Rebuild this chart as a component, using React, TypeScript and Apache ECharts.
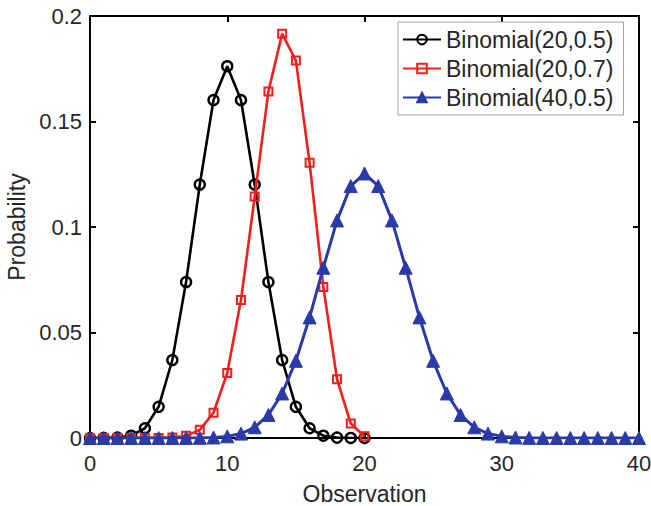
import React, { useEffect, useRef } from "react";
import * as echarts from "echarts";

const xTicks = [0, 10, 20, 30, 40];
const yTicks = [0, 0.05, 0.1, 0.15, 0.2];

const binom20_05 = [
  0.000001, 0.000019, 0.000181, 0.001087, 0.004621, 0.014786, 0.036964, 0.073929,
  0.120134, 0.160179, 0.176197, 0.160179, 0.120134, 0.073929, 0.036964, 0.014786,
  0.004621, 0.001087, 0.000181, 0.000019, 0.000001,
];

const binom20_07 = [
  0.0, 0.0, 0.0, 0.0, 0.000005, 0.000038, 0.000224, 0.001025, 0.003862, 0.011983,
  0.030817, 0.06537, 0.114397, 0.164262, 0.191639, 0.178863, 0.130421, 0.071604,
  0.027846, 0.006839, 0.000798,
];

const binom40_05 = [
  0.0, 0.0, 0.0, 0.0, 0.0, 0.0, 0.000003, 0.000017, 0.00007, 0.000249, 0.000771,
  0.002103, 0.005081, 0.010944, 0.021107, 0.036584, 0.057163, 0.080701, 0.103118,
  0.119401, 0.125371, 0.119401, 0.103118, 0.080701, 0.057163, 0.036584, 0.021107,
  0.010944, 0.005081, 0.002103, 0.000771, 0.000249, 0.00007, 0.000017, 0.000003,
  0.0, 0.0, 0.0, 0.0, 0.0, 0.0,
];

const seriesNames = ["Binomial(20,0.5)", "Binomial(20,0.7)", "Binomial(40,0.5)"];

const FONT = "'Liberation Sans', Arial, Helvetica, sans-serif";
const TXT = "#262626";

export default function App() {
  const ref = useRef<HTMLDivElement>(null);
  useEffect(() => {
    document.body.style.margin = "0";
    if (!ref.current) return;
    const chart = echarts.init(ref.current, undefined, { renderer: "svg" });
    const toPairs = (arr: number[]) => arr.map((v, i) => [i, v]);
    const axisCommon = {
      type: "value" as const,
      axisLine: { show: true, onZero: false, lineStyle: { color: "#000", width: 2 } },
      axisTick: { show: true, inside: true, length: 6, lineStyle: { color: "#000", width: 2 } },
      splitLine: { show: false },
    };
    chart.setOption({
      animation: false,
      backgroundColor: "#fff",
      textStyle: { fontFamily: FONT },
      grid: {
        left: 90,
        right: 12,
        top: 16,
        bottom: 68,
        containLabel: false,
        outerBoundsMode: "none",
      },
      legend: {
        orient: "vertical",
        left: 398,
        top: 22,
        padding: [6, 10, 6, 4],
        itemGap: 6,
        itemWidth: 38,
        itemHeight: 12,
        backgroundColor: "#fff",
        borderColor: "#a0a0a0",
        borderWidth: 1,
        borderRadius: 0,
        textStyle: { fontFamily: FONT, fontSize: 23, color: TXT, padding: [0, 0, 0, 0] },
        data: seriesNames,
      },
      xAxis: [
        {
          ...axisCommon,
          min: 0,
          max: 40,
          interval: 10,
          position: "bottom",
          name: "Observation",
          nameLocation: "middle",
          nameGap: 44,
          nameTextStyle: { fontFamily: FONT, fontSize: 23, color: TXT },
          axisLabel: { fontFamily: FONT, fontSize: 22, color: TXT, margin: 14 },
        },
        {
          ...axisCommon,
          min: 0,
          max: 40,
          interval: 10,
          position: "top",
          axisLabel: { show: false },
        },
      ],
      yAxis: [
        {
          ...axisCommon,
          min: 0,
          max: 0.2,
          interval: 0.05,
          position: "left",
          name: "Probability",
          nameLocation: "middle",
          nameGap: 61,
          nameTextStyle: { fontFamily: FONT, fontSize: 23, color: TXT },
          axisLabel: {
            fontFamily: FONT,
            fontSize: 22,
            color: TXT,
            margin: 8,
            formatter: (v: number) => {
              const t = yTicks.find((y) => Math.abs(y - v) < 1e-9);
              return t === undefined ? "" : String(t);
            },
          },
        },
        {
          ...axisCommon,
          min: 0,
          max: 0.2,
          interval: 0.05,
          position: "right",
          axisLabel: { show: false },
        },
      ],
      series: [
        {
          name: seriesNames[0],
          type: "line",
          data: toPairs(binom20_05),
          symbol: "circle",
          symbolSize: 10,
          showAllSymbol: true,
          lineStyle: { color: "#000", width: 2.6 },
          itemStyle: { color: "rgba(255,255,255,0)", borderColor: "#000", borderWidth: 2.4 },
          z: 2,
        },
        {
          name: seriesNames[1],
          type: "line",
          data: toPairs(binom20_07),
          symbol: "rect",
          symbolSize: 8,
          showAllSymbol: true,
          lineStyle: { color: "#f0201c", width: 2.6 },
          itemStyle: { color: "rgba(255,255,255,0)", borderColor: "#f0201c", borderWidth: 2 },
          z: 3,
        },
        {
          name: seriesNames[2],
          type: "line",
          data: toPairs(binom40_05),
          symbol: "triangle",
          symbolSize: 13,
          showAllSymbol: true,
          lineStyle: { color: "#2a3aa8", width: 3 },
          itemStyle: { color: "#2a3aa8", borderColor: "#2a3aa8", borderWidth: 1 },
          z: 4,
        },
      ],
    });
    return () => chart.dispose();
  }, []);
  return <div ref={ref} style={{ width: 651, height: 506 }} />;
}
